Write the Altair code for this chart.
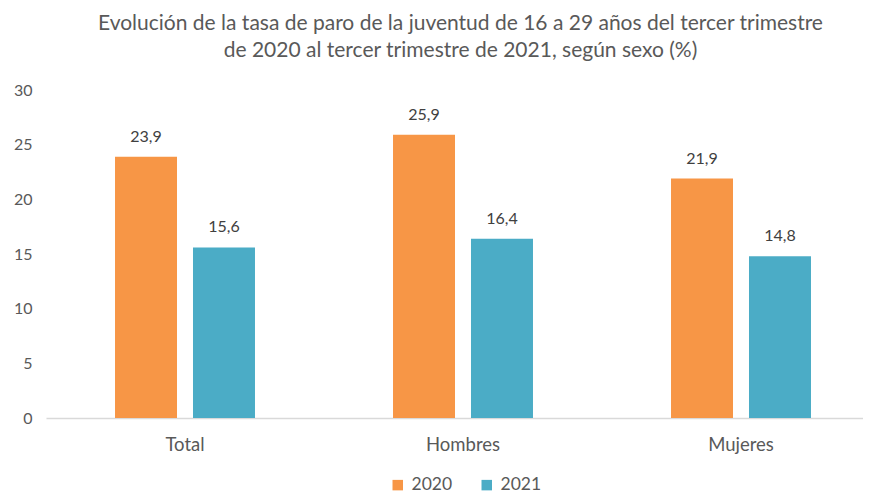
import altair as alt
import pandas as pd

categorias = ["Total", "Hombres", "Mujeres"]
anios = ["2020", "2021"]
valores_2020 = [23.9, 25.9, 21.9]
valores_2021 = [15.6, 16.4, 14.8]

rows = []
for i, c in enumerate(categorias):
    rows.append({"categoria": c, "anio": "2020", "valor": valores_2020[i]})
    rows.append({"categoria": c, "anio": "2021", "valor": valores_2021[i]})
df = pd.DataFrame(rows)

FONT = "Lato"
colores = ["#F79646", "#4BACC6"]

base = alt.Chart(df).transform_calculate(
    etiqueta="replace(format(datum.valor, '.1f'), '.', ',')"
)

x_scale = alt.Scale(paddingInner=0, paddingOuter=0, range=[0, 834])
x_enc = alt.X(
    "categoria:N",
    sort=categorias,
    title=None,
    scale=x_scale,
    axis=alt.Axis(
        labelAngle=0, ticks=False, labelPadding=17, labelFontSize=18.5,
        labelColor="#595959", labelFont=FONT, domainColor="#d9d9d9", domainWidth=1.5,
    ),
)
xoff = alt.XOffset(
    "anio:N", sort=anios,
    scale=alt.Scale(paddingInner=0.205, paddingOuter=0.885),
)

bars = base.mark_bar().encode(
    x=x_enc,
    xOffset=xoff,
    y=alt.Y(
        "valor:Q",
        title=None,
        scale=alt.Scale(domain=[0, 30]),
        axis=alt.Axis(
            values=[0, 5, 10, 15, 20, 25, 30], grid=False, domain=False, ticks=False,
            labelPadding=14, labelFontSize=16, labelColor="#595959", labelFont=FONT,
        ),
    ),
    color=alt.Color(
        "anio:N", sort=anios,
        scale=alt.Scale(domain=anios, range=colores),
        legend=alt.Legend(
            title=None, orient="none", legendX=343, legendY=386, direction="horizontal",
            symbolType="square", symbolSize=110, symbolStrokeWidth=0,
            labelFontSize=17.5, labelColor="#595959", labelFont=FONT,
            columnPadding=25, labelOffset=5,
        ),
    ),
)

labels = base.mark_text(
    baseline="bottom", dy=-12, fontSize=16, font=FONT, color="#404040"
).encode(
    x=alt.X("categoria:N", sort=categorias, scale=x_scale),
    xOffset=alt.XOffset("anio:N", sort=anios),
    y="valor:Q",
    text="etiqueta:N",
)

chart = alt.layer(bars, labels).properties(
    width=817,
    height=328,
    autosize=alt.AutoSizeParams(type="none"),
    padding={"left": 38, "right": 0, "top": 82, "bottom": 76},
    title=alt.Title(
        ["Evolución de la tasa de paro de la juventud de 16 a 29 años del tercer trimestre",
         "de 2020 al tercer trimestre de 2021, según sexo (%)"],
        font=FONT, fontSize=21, fontWeight="normal", color="#595959",
        anchor="middle", lineHeight=27, offset=21, dx=6,
    ),
).configure_view(stroke=None)

chart.save("out.html", embed_options={"renderer": "svg", "actions": False})
